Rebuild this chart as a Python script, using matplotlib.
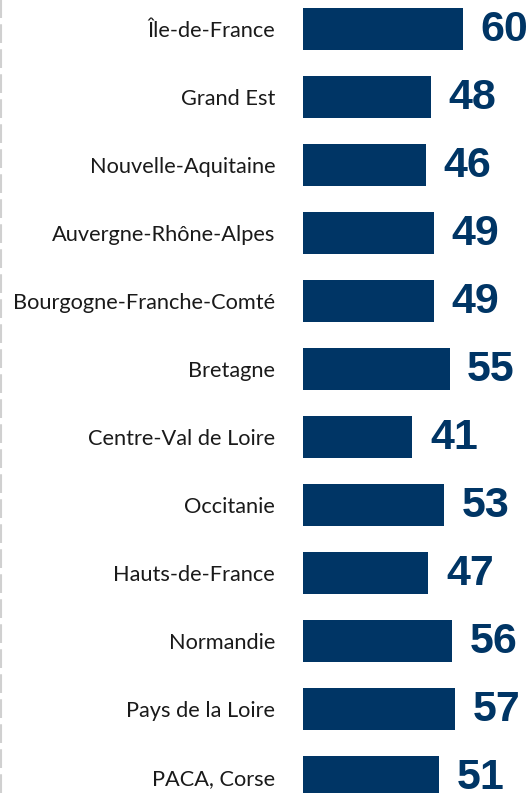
import matplotlib.pyplot as plt
from matplotlib.lines import Line2D

regions = ['Île-de-France', 'Grand Est', 'Nouvelle-Aquitaine', 'Auvergne-Rhône-Alpes',
           'Bourgogne-Franche-Comté', 'Bretagne', 'Centre-Val de Loire', 'Occitanie',
           'Hauts-de-France', 'Normandie', 'Pays de la Loire', 'PACA, Corse']
values = [60, 48, 46, 49, 49, 55, 41, 53, 47, 56, 57, 51]

navy = '#003565'

fig = plt.figure(figsize=(5.28, 7.93), dpi=100)
ax = fig.add_axes([303 / 528, 0, 225 / 528, 1])

pos = list(range(len(regions)))
ax.barh(pos, values, height=0.63, color=navy)
ax.set_xlim(0, 84.4)
ax.set_ylim(11.235, -0.426)

for y, v in zip(pos, values):
    ax.text(v + 6.6, y + 0.02, str(v), va='center', ha='left', fontsize=31,
            fontweight='bold', color=navy, family='Liberation Sans')

ax.set_yticks(pos)
ax.set_yticklabels(regions, fontsize=15.7, family='Lato', color='#1a1a1a')
ax.tick_params(axis='y', length=0, pad=20)
ax.set_xticks([])
for s in ax.spines.values():
    s.set_visible(False)

fig.add_artist(Line2D([1 / 528, 1 / 528], [0, 1], transform=fig.transFigure,
                      color='#d0d0d0', lw=1.5, linestyle=(0, (9, 3))))

fig.savefig('out.png', dpi=100)
